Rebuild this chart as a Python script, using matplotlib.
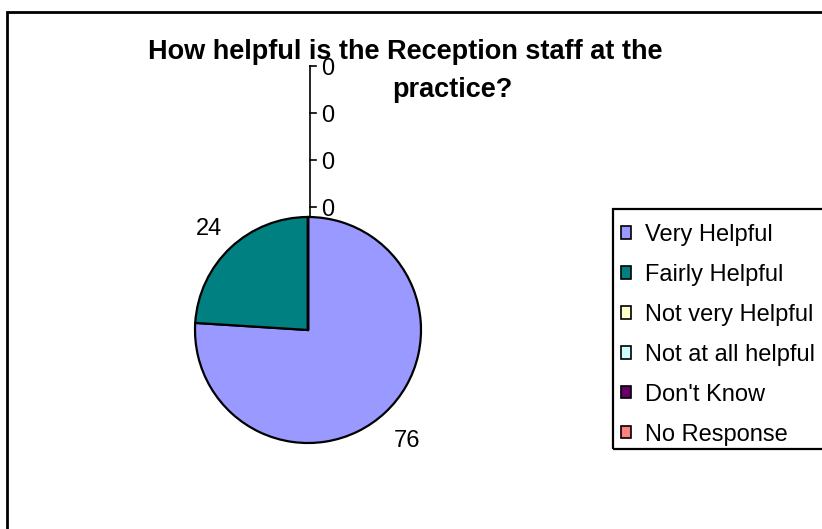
import numpy as np
import matplotlib
matplotlib.use("Agg")
import matplotlib.pyplot as plt
from matplotlib.patches import Rectangle

plt.rcParams['font.family'] = ['Liberation Sans', 'DejaVu Sans']

# data
categories = ["Very Helpful", "Fairly Helpful", "Not very Helpful",
              "Not at all helpful", "Don't Know", "No Response"]
values = [76, 24, 0, 0, 0, 0]
colours = ["#9999FF", "#008080", "#FFFFCC", "#CCFFFF", "#660066", "#FF8080"]
title_1 = "How helpful is the Reception staff at the"
title_2 = "practice?"

W, H = 822, 529
fig = plt.figure(figsize=(W / 100, H / 100), dpi=100)
ax = fig.add_axes([0, 0, 1, 1])

def py(y):
    # pixel row (from top) -> data y
    return H - y

cx, cy, r = 308, py(330), 113
wedges, _ = ax.pie(values, colors=colours, startangle=90, counterclock=False,
                   center=(cx, cy), radius=r, frame=True,
                   wedgeprops=dict(edgecolor="black", linewidth=1.6))
ax.set_xlim(0, W)
ax.set_ylim(0, H)
ax.set_axis_off()

# outer chart frame (runs off right/bottom edge)
ax.add_patch(Rectangle((7, py(540)), 840, 540 - 12, fill=False,
                       edgecolor="black", lw=2, clip_on=False))

# value labels, zero slices get stacked leader labels above the pie
zero_step = 0.415
zero_first = 1.07
nz = 0
for w, v in zip(wedges, values):
    if v > 0:
        a = np.deg2rad((w.theta1 + w.theta2) / 2)
        ax.text(cx + 1.285 * r * np.cos(a), cy + 1.285 * r * np.sin(a) - 5, str(v),
                ha="center", va="center", fontsize=17)
    else:
        a = np.deg2rad(w.theta1)
        ly = cy + r * (zero_first + zero_step * nz)
        lx = cx + r * np.cos(a) + 2
        ax.plot([lx, lx + 6], [ly + 2, ly + 2], color="black", lw=1.2)
        ax.text(lx + 11, ly - 1, str(v), ha="left", va="center", fontsize=17)
        nz += 1
if nz:
    x0 = cx + r * np.cos(np.deg2rad(90)) + 2
    ax.plot([x0, x0], [cy + r, cy + r * (zero_first + zero_step * (nz - 1)) + 2],
            color="black", lw=1.2)

# title
ax.text(405, py(52), title_1, ha="center", va="center", fontsize=19.5, fontweight="bold")
ax.text(452, py(90), title_2, ha="center", va="center", fontsize=19.5, fontweight="bold")

# legend
ax.add_patch(Rectangle((613, py(449)), 240, 449 - 209, fill=False,
                       edgecolor="black", lw=1.6, clip_on=False))
leg = ax.legend(wedges, categories, loc="upper left",
                bbox_to_anchor=(621 / W, 1 - 224 / H), frameon=False,
                fontsize=17, handlelength=0.42, handleheight=0.42,
                handletextpad=0.58, labelspacing=0.76, borderpad=0, borderaxespad=0)
for hnd in leg.legend_handles:
    hnd.set_linewidth(1.2)

fig.savefig("out.png", dpi=100, facecolor="white")
